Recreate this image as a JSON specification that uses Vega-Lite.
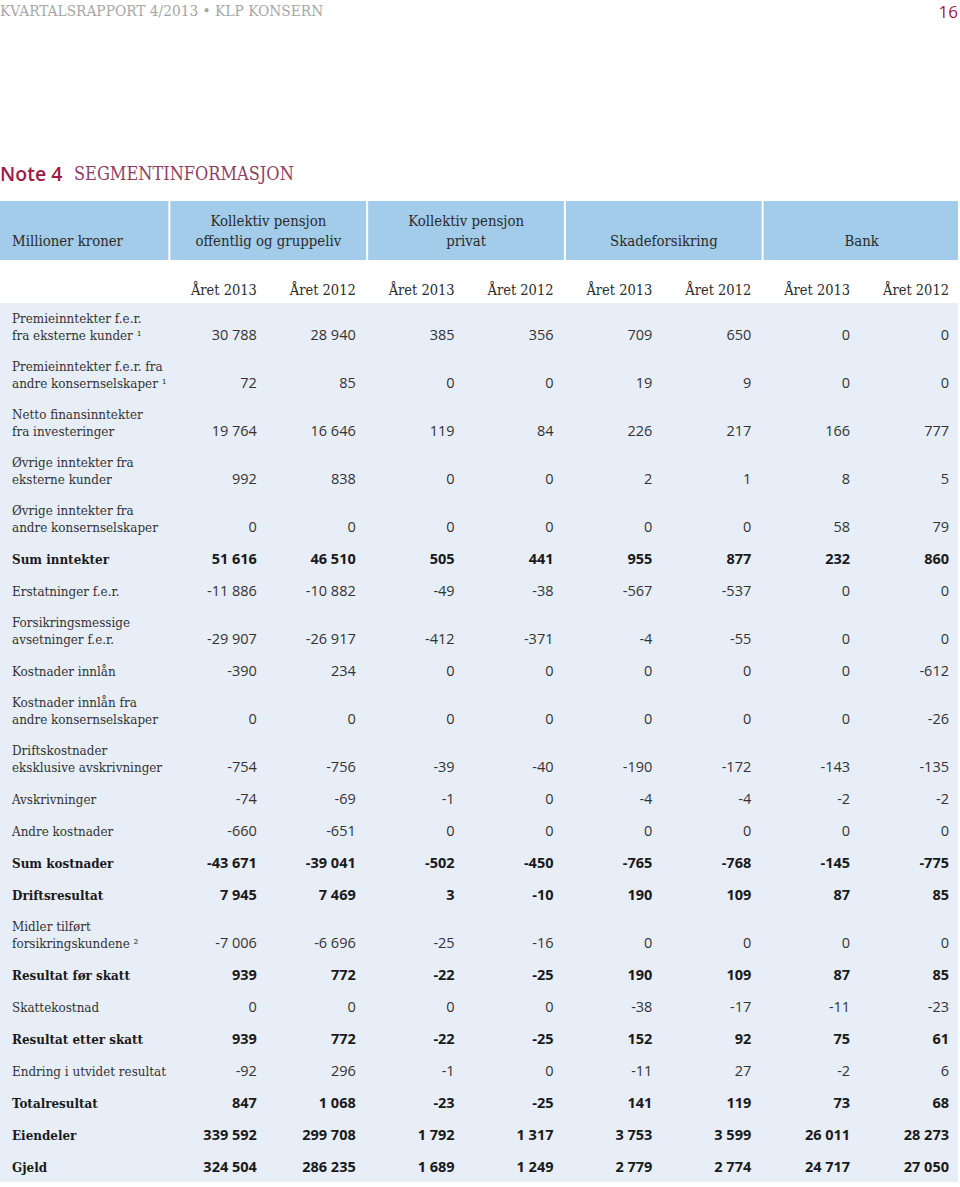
{
  "$schema": "https://vega.github.io/schema/vega-lite/v6.json",
  "width": 960,
  "height": 1187,
  "autosize": {"type": "fit", "contains": "padding"},
  "padding": 0,
  "background": "white",
  "config": {
    "view": {"stroke": null},
    "locale": {"number": {"decimal": ",", "thousands": " ", "grouping": [3], "currency": ["", " kr"], "minus": "-"}}
  },
  "datasets": {
    "columns": [
      {"key": "off2013", "year": "Året 2013", "segment": "Kollektiv pensjon\noffentlig og gruppeliv", "first": true, "lines": 2},
      {"key": "off2012", "year": "Året 2012", "first": false},
      {"key": "priv2013", "year": "Året 2013", "segment": "Kollektiv pensjon\nprivat", "first": true, "lines": 2},
      {"key": "priv2012", "year": "Året 2012", "first": false},
      {"key": "ska2013", "year": "Året 2013", "segment": "Skadeforsikring", "first": true, "lines": 1},
      {"key": "ska2012", "year": "Året 2012", "first": false},
      {"key": "bank2013", "year": "Året 2013", "segment": "Bank", "first": true, "lines": 1},
      {"key": "bank2012", "year": "Året 2012", "first": false}
    ],
    "table": [
      {"label": "Premieinntekter f.e.r.\nfra eksterne kunder ¹", "n": 2, "total": false, "off2013": 30788, "off2012": 28940, "priv2013": 385, "priv2012": 356, "ska2013": 709, "ska2012": 650, "bank2013": 0, "bank2012": 0},
      {"label": "Premieinntekter f.e.r. fra\nandre konsernselskaper ¹", "n": 2, "total": false, "off2013": 72, "off2012": 85, "priv2013": 0, "priv2012": 0, "ska2013": 19, "ska2012": 9, "bank2013": 0, "bank2012": 0},
      {"label": "Netto finansinntekter\nfra investeringer", "n": 2, "total": false, "off2013": 19764, "off2012": 16646, "priv2013": 119, "priv2012": 84, "ska2013": 226, "ska2012": 217, "bank2013": 166, "bank2012": 777},
      {"label": "Øvrige inntekter fra\neksterne kunder", "n": 2, "total": false, "off2013": 992, "off2012": 838, "priv2013": 0, "priv2012": 0, "ska2013": 2, "ska2012": 1, "bank2013": 8, "bank2012": 5},
      {"label": "Øvrige inntekter fra\nandre konsernselskaper", "n": 2, "total": false, "off2013": 0, "off2012": 0, "priv2013": 0, "priv2012": 0, "ska2013": 0, "ska2012": 0, "bank2013": 58, "bank2012": 79},
      {"label": "Sum inntekter", "n": 1, "total": true, "off2013": 51616, "off2012": 46510, "priv2013": 505, "priv2012": 441, "ska2013": 955, "ska2012": 877, "bank2013": 232, "bank2012": 860},
      {"label": "Erstatninger f.e.r.", "n": 1, "total": false, "off2013": -11886, "off2012": -10882, "priv2013": -49, "priv2012": -38, "ska2013": -567, "ska2012": -537, "bank2013": 0, "bank2012": 0},
      {"label": "Forsikringsmessige\navsetninger f.e.r.", "n": 2, "total": false, "off2013": -29907, "off2012": -26917, "priv2013": -412, "priv2012": -371, "ska2013": -4, "ska2012": -55, "bank2013": 0, "bank2012": 0},
      {"label": "Kostnader innlån", "n": 1, "total": false, "off2013": -390, "off2012": 234, "priv2013": 0, "priv2012": 0, "ska2013": 0, "ska2012": 0, "bank2013": 0, "bank2012": -612},
      {"label": "Kostnader innlån fra\nandre konsernselskaper", "n": 2, "total": false, "off2013": 0, "off2012": 0, "priv2013": 0, "priv2012": 0, "ska2013": 0, "ska2012": 0, "bank2013": 0, "bank2012": -26},
      {"label": "Driftskostnader\neksklusive avskrivninger", "n": 2, "total": false, "off2013": -754, "off2012": -756, "priv2013": -39, "priv2012": -40, "ska2013": -190, "ska2012": -172, "bank2013": -143, "bank2012": -135},
      {"label": "Avskrivninger", "n": 1, "total": false, "off2013": -74, "off2012": -69, "priv2013": -1, "priv2012": 0, "ska2013": -4, "ska2012": -4, "bank2013": -2, "bank2012": -2},
      {"label": "Andre kostnader", "n": 1, "total": false, "off2013": -660, "off2012": -651, "priv2013": 0, "priv2012": 0, "ska2013": 0, "ska2012": 0, "bank2013": 0, "bank2012": 0},
      {"label": "Sum kostnader", "n": 1, "total": true, "off2013": -43671, "off2012": -39041, "priv2013": -502, "priv2012": -450, "ska2013": -765, "ska2012": -768, "bank2013": -145, "bank2012": -775},
      {"label": "Driftsresultat", "n": 1, "total": true, "off2013": 7945, "off2012": 7469, "priv2013": 3, "priv2012": -10, "ska2013": 190, "ska2012": 109, "bank2013": 87, "bank2012": 85},
      {"label": "Midler tilført\nforsikringskundene ²", "n": 2, "total": false, "off2013": -7006, "off2012": -6696, "priv2013": -25, "priv2012": -16, "ska2013": 0, "ska2012": 0, "bank2013": 0, "bank2012": 0},
      {"label": "Resultat før skatt", "n": 1, "total": true, "off2013": 939, "off2012": 772, "priv2013": -22, "priv2012": -25, "ska2013": 190, "ska2012": 109, "bank2013": 87, "bank2012": 85},
      {"label": "Skattekostnad", "n": 1, "total": false, "off2013": 0, "off2012": 0, "priv2013": 0, "priv2012": 0, "ska2013": -38, "ska2012": -17, "bank2013": -11, "bank2012": -23},
      {"label": "Resultat etter skatt", "n": 1, "total": true, "off2013": 939, "off2012": 772, "priv2013": -22, "priv2012": -25, "ska2013": 152, "ska2012": 92, "bank2013": 75, "bank2012": 61},
      {"label": "Endring i utvidet resultat", "n": 1, "total": false, "off2013": -92, "off2012": 296, "priv2013": -1, "priv2012": 0, "ska2013": -11, "ska2012": 27, "bank2013": -2, "bank2012": 6},
      {"label": "Totalresultat", "n": 1, "total": true, "off2013": 847, "off2012": 1068, "priv2013": -23, "priv2012": -25, "ska2013": 141, "ska2012": 119, "bank2013": 73, "bank2012": 68},
      {"label": "Eiendeler", "n": 1, "total": true, "off2013": 339592, "off2012": 299708, "priv2013": 1792, "priv2012": 1317, "ska2013": 3753, "ska2012": 3599, "bank2013": 26011, "bank2012": 28273},
      {"label": "Gjeld", "n": 1, "total": true, "off2013": 324504, "off2012": 286235, "priv2013": 1689, "priv2012": 1249, "ska2013": 2779, "ska2012": 2774, "bank2013": 24717, "bank2012": 27050}
    ]
  },
  "encoding": {
    "x": {
      "type": "nominal",
      "scale": {"type": "point", "domain": ["label", "off2013", "off2012", "priv2013", "priv2012", "ska2013", "ska2012", "bank2013", "bank2012"], "range": [158, 949], "padding": 0},
      "axis": null
    },
    "y": {
      "type": "quantitative",
      "scale": {"domain": [-18.4375, 55.75], "reverse": true, "nice": false, "zero": false},
      "axis": null
    }
  },
  "layer": [
    {
      "data": {"values": [{"part": "header"}]},
      "mark": {"type": "rect", "color": "#a3cbea", "xOffset": -158, "x2Offset": 9},
      "encoding": {
        "x": {"datum": "label", "type": "nominal"},
        "x2": {"datum": "bank2012"},
        "y": {"datum": -5.875, "type": "quantitative"},
        "y2": {"datum": -2.1875}
      }
    },
    {
      "data": {"values": [{"part": "body"}]},
      "mark": {"type": "rect", "color": "#e8eef8", "xOffset": -158, "x2Offset": 9},
      "encoding": {
        "x": {"datum": "label", "type": "nominal"},
        "x2": {"datum": "bank2012"},
        "y": {"datum": 0.5, "type": "quantitative"},
        "y2": {"datum": 55.4375}
      }
    },
    {
      "data": {"name": "columns"},
      "transform": [{"filter": "datum.first"}],
      "mark": {"type": "rule", "color": "white", "strokeWidth": 2, "xOffset": -87.5},
      "encoding": {
        "x": {"field": "key", "type": "nominal"},
        "y": {"datum": -5.875, "type": "quantitative"},
        "y2": {"datum": -2.1875}
      }
    },
    {
      "data": {"name": "columns"},
      "transform": [{"filter": "datum.first && datum.lines == 2"}],
      "mark": {"type": "text", "align": "center", "baseline": "bottom", "dx": 11.5, "dy": -20, "lineBreak": "\n", "lineHeight": 20, "font": "DejaVu Serif Condensed", "fontSize": 14.8, "color": "#2b2b2b"},
      "encoding": {
        "x": {"field": "key", "type": "nominal"},
        "y": {"datum": -2.875, "type": "quantitative"},
        "text": {"field": "segment"}
      }
    },
    {
      "data": {"name": "columns"},
      "transform": [{"filter": "datum.first && datum.lines == 1"}],
      "mark": {"type": "text", "align": "center", "baseline": "bottom", "dx": 11.5, "font": "DejaVu Serif Condensed", "fontSize": 14.8, "color": "#2b2b2b"},
      "encoding": {
        "x": {"field": "key", "type": "nominal"},
        "y": {"datum": -2.875, "type": "quantitative"},
        "text": {"field": "segment"}
      }
    },
    {
      "data": {"values": [{"text": "Millioner kroner"}]},
      "mark": {"type": "text", "align": "left", "baseline": "bottom", "dx": -146, "font": "DejaVu Serif Condensed", "fontSize": 14.8, "color": "#2b2b2b"},
      "encoding": {
        "x": {"datum": "label", "type": "nominal"},
        "y": {"datum": -2.875, "type": "quantitative"},
        "text": {"field": "text"}
      }
    },
    {
      "data": {"name": "columns"},
      "mark": {"type": "text", "align": "right", "baseline": "bottom", "font": "DejaVu Serif Condensed", "fontSize": 14.5, "color": "#2b2b2b"},
      "encoding": {
        "x": {"field": "key", "type": "nominal"},
        "y": {"datum": 0.2, "type": "quantitative"},
        "text": {"field": "year"}
      }
    },
    {
      "data": {"name": "table"},
      "transform": [
        {"window": [{"op": "sum", "field": "n", "as": "cum"}, {"op": "row_number", "as": "rn"}], "frame": [null, 0]},
        {"calculate": "datum.cum + datum.rn", "as": "pos"}
      ],
      "layer": [
        {
          "transform": [{"filter": "!datum.total && datum.n == 1"}],
          "mark": {"type": "text", "align": "left", "baseline": "bottom", "dx": -146, "font": "DejaVu Serif Condensed", "fontSize": 13.3, "color": "#333333"},
          "encoding": {
            "x": {"datum": "label", "type": "nominal"},
            "y": {"field": "pos", "type": "quantitative"},
            "text": {"field": "label"}
          }
        },
        {
          "transform": [{"filter": "!datum.total && datum.n == 2"}],
          "mark": {"type": "text", "align": "left", "baseline": "bottom", "dx": -146, "dy": -17, "lineBreak": "\n", "lineHeight": 17, "font": "DejaVu Serif Condensed", "fontSize": 13.3, "color": "#333333"},
          "encoding": {
            "x": {"datum": "label", "type": "nominal"},
            "y": {"field": "pos", "type": "quantitative"},
            "text": {"field": "label"}
          }
        },
        {
          "transform": [{"filter": "datum.total"}],
          "mark": {"type": "text", "align": "left", "baseline": "bottom", "dx": -146, "font": "DejaVu Serif Condensed", "fontSize": 13.3, "fontWeight": "bold", "color": "#1a1a1a"},
          "encoding": {
            "x": {"datum": "label", "type": "nominal"},
            "y": {"field": "pos", "type": "quantitative"},
            "text": {"field": "label"}
          }
        },
        {
          "transform": [
            {"fold": ["off2013", "off2012", "priv2013", "priv2012", "ska2013", "ska2012", "bank2013", "bank2012"], "as": ["key", "value"]},
            {"filter": "!datum.total"}
          ],
          "mark": {"type": "text", "align": "right", "baseline": "bottom", "font": "Open Sans", "fontSize": 14.5, "color": "#333333"},
          "encoding": {
            "x": {"field": "key", "type": "nominal"},
            "y": {"field": "pos", "type": "quantitative"},
            "text": {"field": "value", "type": "quantitative", "format": ","}
          }
        },
        {
          "transform": [
            {"fold": ["off2013", "off2012", "priv2013", "priv2012", "ska2013", "ska2012", "bank2013", "bank2012"], "as": ["key", "value"]},
            {"filter": "datum.total"}
          ],
          "mark": {"type": "text", "align": "right", "baseline": "bottom", "font": "Open Sans", "fontSize": 14.5, "fontWeight": "bold", "color": "#1a1a1a"},
          "encoding": {
            "x": {"field": "key", "type": "nominal"},
            "y": {"field": "pos", "type": "quantitative"},
            "text": {"field": "value", "type": "quantitative", "format": ","}
          }
        }
      ]
    },
    {
      "data": {"values": [{"text": "KVARTALSRAPPORT 4/2013  •  KLP KONSERN"}]},
      "mark": {"type": "text", "align": "left", "baseline": "bottom", "dx": -158, "font": "DejaVu Serif Condensed", "fontSize": 15.3, "color": "#a6a6a6"},
      "encoding": {
        "x": {"datum": "label", "type": "nominal"},
        "y": {"datum": -17.25, "type": "quantitative"},
        "text": {"field": "text"}
      }
    },
    {
      "data": {"values": [{"text": "16"}]},
      "mark": {"type": "text", "align": "right", "baseline": "bottom", "dx": 9, "font": "Open Sans", "fontSize": 17, "color": "#9e1b45"},
      "encoding": {
        "x": {"datum": "bank2012", "type": "nominal"},
        "y": {"datum": -17.05, "type": "quantitative"},
        "text": {"field": "text"}
      }
    },
    {
      "data": {"values": [{"text": "Note 4"}]},
      "mark": {"type": "text", "align": "left", "baseline": "bottom", "dx": -158, "font": "Open Sans", "fontSize": 19.5, "fontWeight": 600, "color": "#9e1b45"},
      "encoding": {
        "x": {"datum": "label", "type": "nominal"},
        "y": {"datum": -6.9, "type": "quantitative"},
        "text": {"field": "text"}
      }
    },
    {
      "data": {"values": [{"text": "SEGMENTINFORMASJON"}]},
      "mark": {"type": "text", "align": "left", "baseline": "bottom", "dx": -84, "font": "DejaVu Serif Condensed", "fontSize": 18, "color": "#8f3f63"},
      "encoding": {
        "x": {"datum": "label", "type": "nominal"},
        "y": {"datum": -6.95, "type": "quantitative"},
        "text": {"field": "text"}
      }
    }
  ]
}
